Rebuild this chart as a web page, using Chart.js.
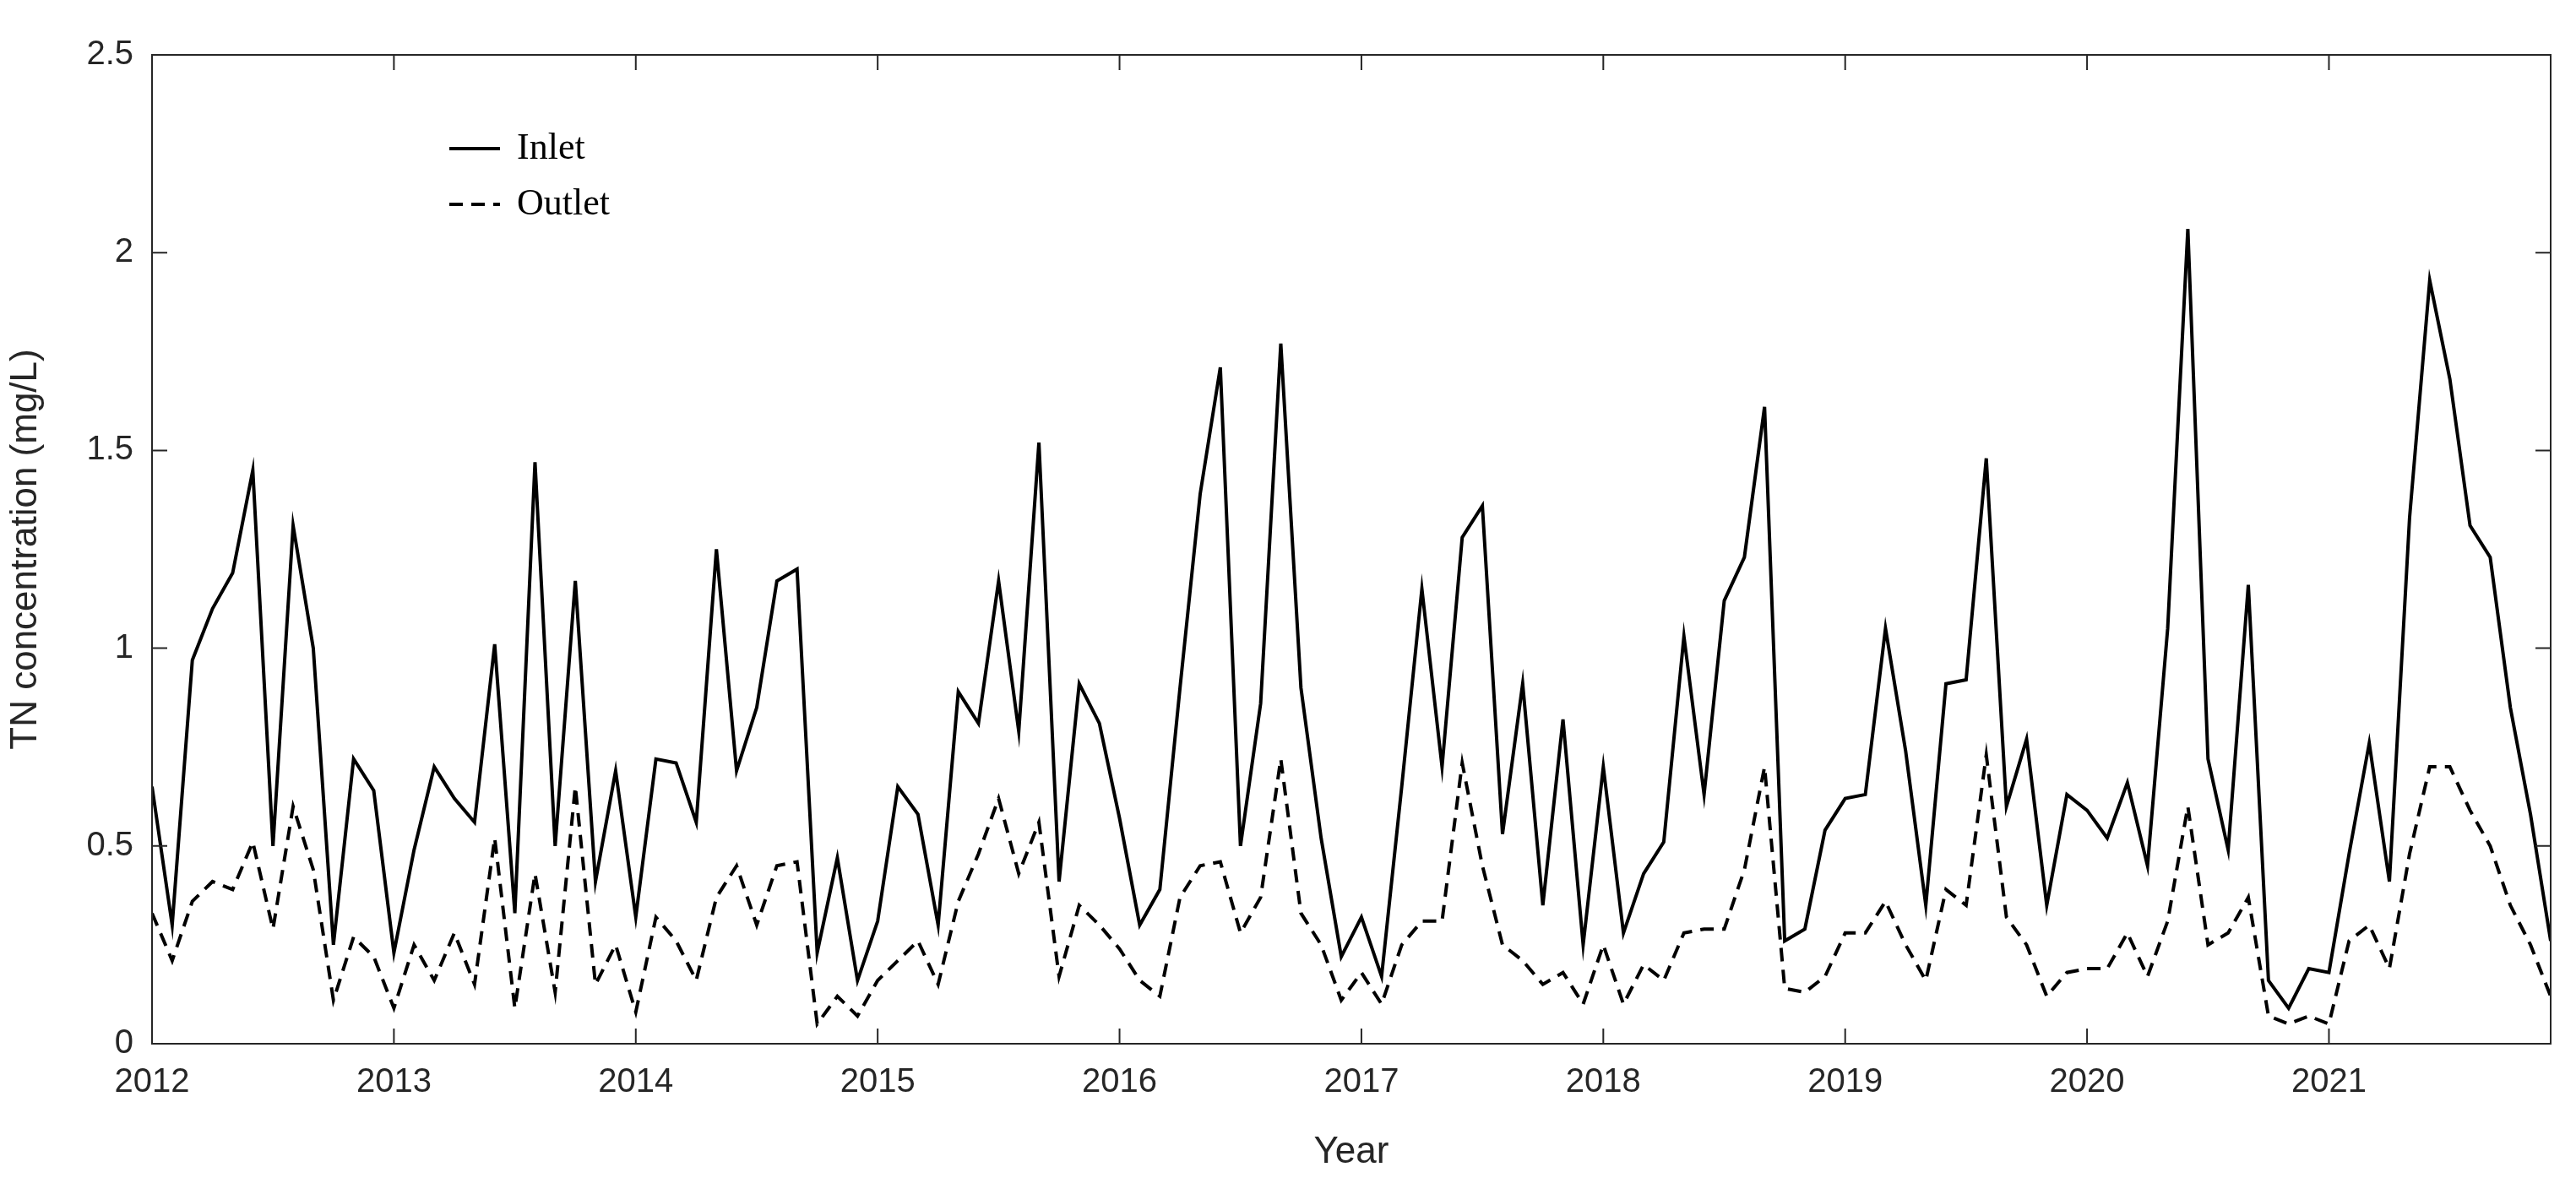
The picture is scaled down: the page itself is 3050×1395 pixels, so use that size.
<!DOCTYPE html>
<html>
<head>
<meta charset="utf-8">
<script src="https://cdn.jsdelivr.net/npm/chart.js@4.4.0/dist/chart.umd.min.js"></script>
<style>
  html, body { margin: 0; padding: 0; background: #fff; }
  #wrap { width: 3050px; height: 1395px; }
</style>
</head>
<body>
<div id="wrap"><canvas id="tnChart"></canvas></div>
<script>
const startYear = 2012;
const yearTicks = [2012, 2013, 2014, 2015, 2016, 2017, 2018, 2019, 2020, 2021];
const yTicks = [0, 0.5, 1, 1.5, 2, 2.5];

// monthly values, Jan 2012 .. Dec 2021
const inlet = [
  0.65, 0.30, 0.97, 1.10, 1.19, 1.45, 0.50, 1.31, 1.00, 0.25, 0.72, 0.64,
  0.23, 0.49, 0.70, 0.62, 0.56, 1.01, 0.33, 1.47, 0.50, 1.17, 0.41, 0.69,
  0.32, 0.72, 0.71, 0.56, 1.25, 0.69, 0.85, 1.17, 1.20, 0.23, 0.47, 0.16,
  0.31, 0.65, 0.58, 0.30, 0.89, 0.81, 1.17, 0.79, 1.52, 0.41, 0.91, 0.81,
  0.57, 0.30, 0.39, 0.90, 1.39, 1.71, 0.50, 0.86, 1.77, 0.90, 0.52, 0.22,
  0.32, 0.17, 0.65, 1.15, 0.70, 1.28, 1.36, 0.53, 0.91, 0.35, 0.82, 0.25,
  0.70, 0.28, 0.43, 0.51, 1.03, 0.63, 1.12, 1.23, 1.61, 0.26, 0.29, 0.54,
  0.62, 0.63, 1.05, 0.74, 0.35, 0.91, 0.92, 1.48, 0.60, 0.77, 0.35, 0.63,
  0.59, 0.52, 0.66, 0.45, 1.05, 2.06, 0.72, 0.49, 1.16, 0.16, 0.09, 0.19,
  0.18, 0.48, 0.76, 0.41, 1.33, 1.93, 1.68, 1.31, 1.23, 0.85, 0.58, 0.26
];
const outlet = [
  0.33, 0.21, 0.36, 0.41, 0.39, 0.51, 0.29, 0.60, 0.44, 0.11, 0.27, 0.22,
  0.09, 0.25, 0.16, 0.28, 0.15, 0.52, 0.09, 0.43, 0.13, 0.65, 0.15, 0.25,
  0.08, 0.32, 0.26, 0.16, 0.37, 0.45, 0.30, 0.45, 0.46, 0.05, 0.12, 0.07,
  0.16, 0.21, 0.26, 0.15, 0.36, 0.48, 0.62, 0.43, 0.56, 0.17, 0.35, 0.30,
  0.24, 0.16, 0.12, 0.37, 0.45, 0.46, 0.28, 0.37, 0.72, 0.33, 0.25, 0.11,
  0.18, 0.10, 0.25, 0.31, 0.31, 0.71, 0.45, 0.25, 0.21, 0.15, 0.18, 0.10,
  0.25, 0.10, 0.20, 0.16, 0.28, 0.29, 0.29, 0.44, 0.70, 0.14, 0.13, 0.17,
  0.28, 0.28, 0.36, 0.25, 0.16, 0.39, 0.35, 0.73, 0.32, 0.25, 0.12, 0.18,
  0.19, 0.19, 0.28, 0.17, 0.31, 0.60, 0.25, 0.28, 0.37, 0.07, 0.05, 0.07,
  0.05, 0.26, 0.30, 0.19, 0.48, 0.70, 0.70, 0.59, 0.50, 0.35, 0.25, 0.12
];

const toPoints = arr => arr.map((v, i) => ({ x: startYear + i / 12, y: v }));

// box around plot + inward tick marks + legend
const framePlugin = {
  id: 'frame',
  afterDraw(chart) {
    const { ctx, chartArea: a, scales } = chart;
    ctx.save();
    ctx.strokeStyle = '#262626';
    ctx.lineWidth = 2;
    ctx.strokeRect(a.left, a.top, a.right - a.left, a.bottom - a.top);
    const len = 18;
    ctx.beginPath();
    yearTicks.forEach(t => {
      const x = scales.x.getPixelForValue(t);
      ctx.moveTo(x, a.bottom); ctx.lineTo(x, a.bottom - len);
      ctx.moveTo(x, a.top); ctx.lineTo(x, a.top + len);
    });
    yTicks.forEach(t => {
      const y = scales.y.getPixelForValue(t);
      ctx.moveTo(a.left, y); ctx.lineTo(a.left + len, y);
      ctx.moveTo(a.right, y); ctx.lineTo(a.right - len, y);
    });
    ctx.stroke();

    // legend
    ctx.strokeStyle = '#000';
    ctx.fillStyle = '#000';
    ctx.lineWidth = 4;
    ctx.font = '44px "Liberation Serif"';
    ctx.textBaseline = 'middle';
    ctx.beginPath();
    ctx.moveTo(532, 176); ctx.lineTo(592, 176);
    ctx.stroke();
    ctx.setLineDash([16, 10]);
    ctx.beginPath();
    ctx.moveTo(532, 242); ctx.lineTo(592, 242);
    ctx.stroke();
    ctx.setLineDash([]);
    ctx.fillText('Inlet', 612, 176);
    ctx.fillText('Outlet', 612, 242);
    ctx.restore();
  }
};

new Chart(document.getElementById('tnChart'), {
  type: 'line',
  data: {
    datasets: [
      { label: 'Inlet', data: toPoints(inlet), borderColor: '#000', borderWidth: 4, pointRadius: 0, tension: 0 },
      { label: 'Outlet', data: toPoints(outlet), borderColor: '#000', borderWidth: 4, borderDash: [16, 10], pointRadius: 0, tension: 0 }
    ]
  },
  options: {
    responsive: true,
    maintainAspectRatio: false,
    animation: false,
    layout: { padding: { top: 65, right: 30, left: 0, bottom: 0 } },
    plugins: { legend: { display: false }, tooltip: { enabled: false } },
    scales: {
      x: {
        type: 'linear',
        min: startYear,
        max: startYear + 119 / 12,
        grid: { display: false },
        border: { display: false },
        afterBuildTicks: s => { s.ticks = yearTicks.map(v => ({ value: v })); },
        afterFit: s => { s.height = 159; },
        ticks: { color: '#262626', font: { family: 'Liberation Sans', size: 40 }, padding: 14, maxRotation: 0, callback: v => String(v) },
        title: { display: true, text: 'Year', color: '#262626', font: { family: 'Liberation Sans', size: 44 }, padding: { top: 2 } }
      },
      y: {
        min: 0,
        max: 2.5,
        grid: { display: false },
        border: { display: false },
        afterBuildTicks: s => { s.ticks = yTicks.map(v => ({ value: v })); },
        afterFit: s => { s.width = 180; },
        ticks: { color: '#262626', font: { family: 'Liberation Sans', size: 40 }, padding: 14, callback: v => String(v) },
        title: { display: true, text: 'TN concentration (mg/L)', color: '#262626', font: { family: 'Liberation Sans', size: 44 }, padding: { bottom: 6 } }
      }
    }
  },
  plugins: [framePlugin]
});
</script>
</body>
</html>
